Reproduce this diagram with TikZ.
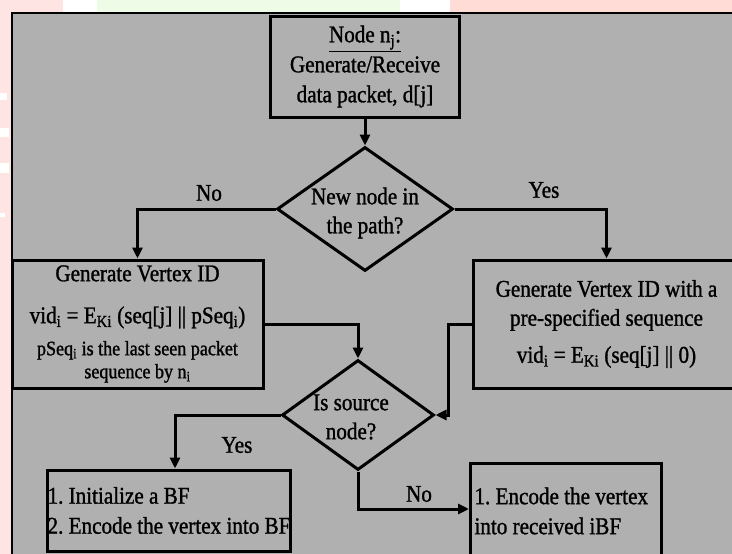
\documentclass[tikz,border=0pt]{standalone}
\usepackage{fontspec}
\setmainfont{Liberation Serif}[FakeStretch=0.88,FakeBold=1.2]
\usetikzlibrary{arrows.meta,shapes.geometric}
\definecolor{bggray}{RGB}{176,176,176}
\definecolor{pinkA}{RGB}{255,228,228}
\definecolor{pinkB}{RGB}{255,220,214}
\definecolor{greenA}{RGB}{238,251,230}
\begin{document}
\begin{tikzpicture}[x=1pt,y=-1pt,
  box/.style={draw=black,line width=3pt,fill=bggray,inner sep=0pt},
  dec/.style={draw=black,line width=3pt,fill=bggray,shape=diamond,inner sep=0pt},
  txt/.style={font=\fontsize{24}{29}\selectfont},
  conn/.style={draw=black,line width=3pt,-{Triangle[length=11pt,width=10pt]}},
]
\useasboundingbox (0,0) rectangle (732,554);
\clip (0,0) rectangle (732,554);
% outside strips
\fill[pinkA] (0,0) rectangle (732,554);
\fill[white] (63,0) rectangle (97,12);
\fill[greenA] (97,0) rectangle (400,12);
\fill[white] (400,0) rectangle (450,12);
\fill[pinkB] (450,0) rectangle (732,12);
\fill[white] (0,93) rectangle (7,100);
\fill[white] (0,128) rectangle (9,137);
\fill[white] (0,163) rectangle (9,173);
\fill[white] (0,213) rectangle (5,217);
% frame
\draw[line width=2.5pt,fill=bggray] (12,13) rectangle (760,580);

% nodes
\node[box,minimum width=189pt,minimum height=101pt,align=center,
      font=\fontsize{24}{30}\selectfont] (src) at (365,66.5)
  {\underline{Node n\textsubscript{j}:}\\Generate/Receive\\data packet, d[j]};

\node[dec,minimum width=176pt,minimum height=124pt,
      label={[txt,align=center,yshift=-4pt]center:New node in\\the path?}] (d1) at (365,209) {};

\node[box,minimum width=251pt,minimum height=128pt,align=center,
      font=\fontsize{24}{23}\selectfont] (gvid) at (137.5,324)
  {Generate Vertex ID\\[19pt]
   vid\textsubscript{i} = E\textsubscript{Ki} (seq[j] || pSeq\textsubscript{i})\\[9pt]
   {\fontsize{20.5}{23}\selectfont pSeq\textsubscript{i} is the last seen packet}\\
   {\fontsize{20.5}{23}\selectfont sequence by n\textsubscript{i}}};

\node[box,minimum width=267pt,minimum height=128pt,align=center,
      font=\fontsize{24}{29}\selectfont] (gvs) at (606.5,324)
  {Generate Vertex ID with a\\pre-specified sequence\\[8pt]
   vid\textsubscript{i} = E\textsubscript{Ki} (seq[j] || 0)};

\node[dec,minimum width=152pt,minimum height=110pt,
      label={[txt,align=center,xshift=-7pt,yshift=-2pt]center:Is source\\node?}] (d2) at (358,415) {};

\node[box,minimum width=242pt,minimum height=81pt,align=left,inner xsep=0.5pt,
      font=\fontsize{24}{30}\selectfont] (bf) at (169,510.5)
  {1.\ Initialize a BF\\2.\ Encode the vertex into BF};

\node[box,anchor=north west,text width=183pt,align=flush left,inner xsep=4pt,inner ysep=24pt,
      text depth=30pt,font=\fontsize{24}{30}\selectfont] (ibf) at (469,462)
  {1.\ Encode the vertex\\into received iBF};

% labels
\node[txt] (lno1) at (209,193) {No};
\node[txt] (lyes1) at (544,190) {Yes};
\node[txt] (lyes2) at (237,445) {Yes};
\node[txt] (lno2) at (419,494) {No};

% connectors
\draw[conn] (src.south) -- (d1.north);
\draw[conn] (d1.west) -| (gvid.north);
\draw[conn] (d1.east) -| (gvs.north);
\draw[conn] (gvid.east) -| (d2.north);
\draw[conn] (gvs.west) -- ++(-23,0) |- (d2.east);
\draw[conn] (d2.west) -| ([xshift=6pt]bf.north);
\draw[conn] (d2.south) |- ([yshift=-47pt]ibf.north west);
\end{tikzpicture}
\end{document}
